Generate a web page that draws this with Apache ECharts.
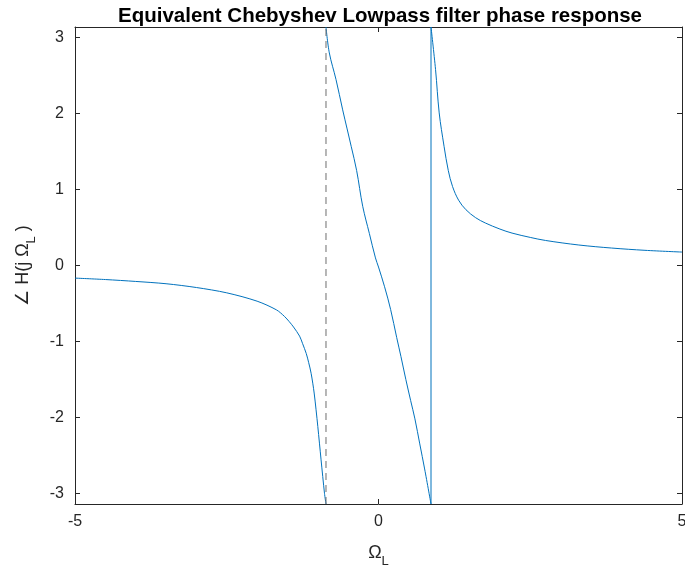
<!DOCTYPE html>
<html>
<head>
<meta charset="utf-8">
<script src="https://cdn.jsdelivr.net/npm/echarts@6/dist/echarts.min.js"></script>
<style>html,body{margin:0;padding:0;background:#fff;}#c{width:685px;height:571px;}</style>
</head>
<body>
<div id="c"></div>
<script>
var PI = Math.PI;
var leftX = [-5, -4.5, -4, -3.5, -3, -2.5, -2, -1.68, -1.55, -1.47, -1.4, -1.3, -1.25, -1.19, -1.15, -1.11, -1.06, -1.0, -0.946, -0.89, -0.865];
var leftY = [-0.166, -0.185, -0.21, -0.24, -0.29, -0.36, -0.47, -0.585, -0.67, -0.74, -0.81, -0.93, -1.03, -1.16, -1.28, -1.42, -1.68, -2.12, -2.56, -3.0, -PI];
var midX = [-0.865, -0.81, -0.7, -0.59, -0.45, -0.36, -0.26, -0.15, -0.05, 0, 0.1, 0.2, 0.3, 0.37, 0.45, 0.53, 0.6, 0.68, 0.76, 0.865];
var midY = [PI, 2.80, 2.45, 2.05, 1.57, 1.25, 0.78, 0.42, 0.10, -0.02, -0.28, -0.58, -0.95, -1.2, -1.5, -1.78, -2.02, -2.35, -2.68, -PI];
var rightX = [0.865, 0.94, 1.0, 1.08, 1.15, 1.22, 1.32, 1.44, 1.6, 1.76, 2.0, 2.2, 2.5, 2.75, 3.3, 3.84, 4.39, 5];
var rightY = [PI, 2.58, 2.01, 1.57, 1.25, 1.04, 0.86, 0.735, 0.63, 0.56, 0.48, 0.427, 0.37, 0.33, 0.27, 0.23, 0.20, 0.177];
var jumpX = 0.865;
var wrapX = -0.865;
var yTicks = [-3, -2, -1, 0, 1, 2, 3];

function pairs(xs, ys){ return xs.map(function(x,i){ return [x, ys[i]]; }); }
var leftData = pairs(leftX, leftY);
var midData = pairs(midX, midY);
var rightData = pairs(rightX, rightY);
var jumpData = [[jumpX, -PI], [jumpX, PI]];
var dashData = [[wrapX, -PI], [wrapX, PI]];

var axisCol = '#262626';
var blue = '#0072BD';
var font = 'Liberation Sans, Arial, Helvetica, sans-serif';
var chart = echarts.init(document.getElementById('c'));
function lineS(data, smooth){
  return {type: 'line', data: data, showSymbol: false, smooth: smooth,
    lineStyle: {color: blue, width: 1}, clip: true, xAxisIndex: 0, yAxisIndex: 0};
}
chart.setOption({
  animation: false,
  backgroundColor: '#fff',
  title: {
    text: 'Equivalent Chebyshev Lowpass filter phase response',
    left: 375, top: 1, textAlign: 'center',
    textStyle: {fontFamily: font, fontSize: 20.5, fontWeight: 'bold', color: '#000'}
  },
  grid: {left: 75, right: 3, top: 27, bottom: 67, outerBoundsMode: 'none', containLabel: false},
  xAxis: [{
    type: 'value', min: -5, max: 5, interval: 5, position: 'bottom',
    name: 'Ω{sub|L}', nameLocation: 'middle', nameGap: 35,
    nameTextStyle: {fontFamily: font, fontSize: 18, color: axisCol,
      rich: {sub: {fontFamily: font, fontSize: 13, color: axisCol, padding: [16, 0, 0, 0]}}},
    axisLine: {show: true, onZero: false, lineStyle: {color: axisCol, width: 1}},
    axisTick: {show: true, inside: true, length: 5, lineStyle: {color: axisCol}},
    axisLabel: {fontFamily: font, fontSize: 16, color: axisCol, margin: 10, showMinLabel: true, showMaxLabel: true},
    splitLine: {show: false}
  }, {
    type: 'value', min: -5, max: 5, interval: 5, position: 'top',
    axisLine: {show: true, onZero: false, lineStyle: {color: axisCol, width: 1}},
    axisTick: {show: true, inside: true, length: 5, lineStyle: {color: axisCol}},
    axisLabel: {show: false}, splitLine: {show: false}
  }],
  yAxis: [{
    type: 'value', min: -PI, max: PI, position: 'left',
    name: '∠ H(j Ω{sub|L} )', nameLocation: 'middle', nameGap: 37, nameRotate: 90,
    nameTextStyle: {fontFamily: font, fontSize: 18, color: axisCol,
      rich: {sub: {fontFamily: font, fontSize: 13, color: axisCol, padding: [16, 0, 0, 0]}}},
    axisLine: {show: true, onZero: false, lineStyle: {color: axisCol, width: 1}},
    axisTick: {show: true, inside: true, length: 5, customValues: yTicks, lineStyle: {color: axisCol}},
    axisLabel: {fontFamily: font, fontSize: 16, color: axisCol, margin: 11, customValues: yTicks,
      formatter: function(v){ return String(Math.round(v)); }},
    splitLine: {show: false}
  }, {
    type: 'value', min: -PI, max: PI, position: 'right',
    axisLine: {show: true, onZero: false, lineStyle: {color: axisCol, width: 1}},
    axisTick: {show: true, inside: true, length: 5, customValues: yTicks, lineStyle: {color: axisCol}},
    axisLabel: {show: false}, splitLine: {show: false}
  }],
  series: [
    lineS(leftData, 0.3),
    lineS(midData, 0.35),
    lineS(rightData, 0.35),
    lineS(jumpData, false),
    {
      type: 'line', data: dashData, showSymbol: false,
      lineStyle: {color: '#6e6e6e', width: 1, type: [7, 5]}, clip: true
    }
  ]
});
</script>
</body>
</html>
